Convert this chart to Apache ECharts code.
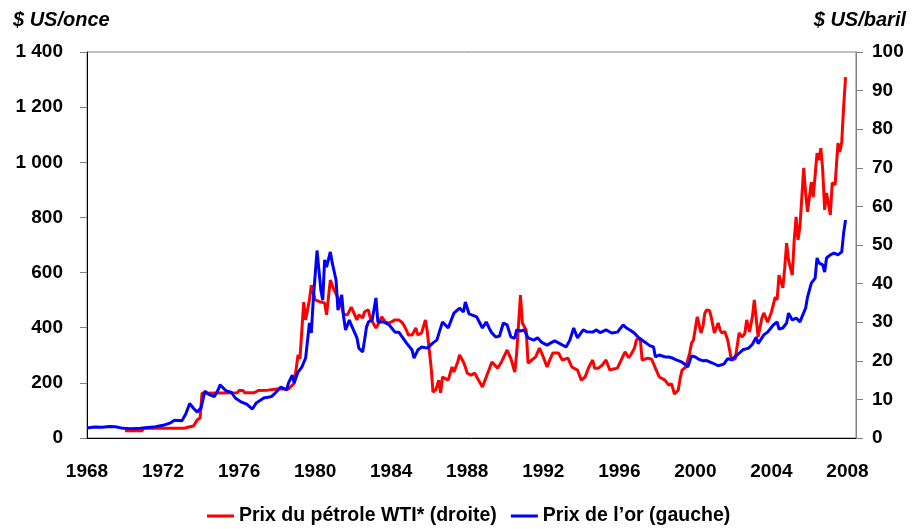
<!DOCTYPE html>
<html>
<head>
<meta charset="utf-8">
<script src="https://cdn.jsdelivr.net/npm/echarts@6/dist/echarts.min.js"></script>
<style>
  html, body { margin: 0; padding: 0; background: #fff; }
  #chart { width: 917px; height: 529px; }
</style>
</head>
<body>
<div id="chart"></div>
<script>
// dates en années décimales
var goldYears = [1968.0, 1968.4, 1968.8, 1969.2, 1969.5, 1969.9, 1970.3, 1970.8, 1971.2, 1971.6,
    1972.0, 1972.4, 1972.6, 1973.0, 1973.2, 1973.4, 1973.6, 1973.8, 1974.0, 1974.2,
    1974.4, 1974.7, 1974.9, 1975.0, 1975.3, 1975.6, 1975.8, 1976.1, 1976.4, 1976.7,
    1976.9, 1977.3, 1977.7, 1977.9, 1978.2, 1978.5, 1978.6, 1978.8, 1978.9, 1979.1,
    1979.3, 1979.5, 1979.7, 1979.8, 1979.9, 1980.1, 1980.3, 1980.4, 1980.5, 1980.6,
    1980.8, 1980.9, 1981.1, 1981.2, 1981.4, 1981.5, 1981.6, 1981.8, 1981.9, 1982.2,
    1982.3, 1982.5, 1982.6, 1982.7, 1982.8, 1983.0, 1983.2, 1983.3, 1983.6, 1983.9,
    1984.2, 1984.4, 1984.8, 1985.1, 1985.2, 1985.4, 1985.6, 1985.9, 1986.2, 1986.4,
    1986.7, 1987.0, 1987.1, 1987.3, 1987.6, 1987.8, 1987.9, 1988.1, 1988.3, 1988.5,
    1988.8, 1989.0, 1989.2, 1989.3, 1989.5, 1989.7, 1989.9, 1990.1, 1990.3, 1990.5,
    1990.6, 1990.8, 1991.0, 1991.2, 1991.3, 1991.5, 1991.7, 1991.9, 1992.0, 1992.2,
    1992.4, 1992.6, 1992.8, 1993.2, 1993.4, 1993.6, 1993.8, 1994.1, 1994.3, 1994.6,
    1994.8, 1995.0, 1995.3, 1995.6, 1995.9, 1996.2, 1996.4, 1996.6, 1996.8, 1997.0,
    1997.3, 1997.6, 1997.8, 1997.9, 1998.1, 1998.4, 1998.6, 1998.8, 1999.0, 1999.3,
    1999.5, 1999.6, 1999.8, 2000.0, 2000.2, 2000.4, 2000.6, 2000.9, 2001.2, 2001.3,
    2001.5, 2001.7, 2001.9, 2002.0, 2002.2, 2002.5, 2002.6, 2002.8, 2003.0, 2003.2,
    2003.3, 2003.5, 2003.6, 2003.8, 2004.1, 2004.2, 2004.3, 2004.4, 2004.6, 2004.8,
    2004.9, 2005.1, 2005.3, 2005.5, 2005.6, 2005.8, 2005.9, 2006.1, 2006.3, 2006.4,
    2006.5, 2006.6, 2006.7, 2006.8, 2006.9, 2007.1, 2007.3, 2007.5, 2007.6, 2007.7,
    2007.8, 2007.9];
var goldPrices = [36, 40, 39, 42, 41, 35, 34, 35, 38, 41,
    46, 55, 64, 63, 88, 125, 108, 94, 110, 170,
    158, 150, 175, 193, 172, 165, 145, 131, 123, 105,
    127, 145, 150, 163, 185, 174, 200, 228, 200, 239,
    257, 290, 417, 381, 500, 680, 537, 500, 646, 620,
    675, 635, 573, 464, 519, 439, 392, 428, 410, 363,
    326, 312, 355, 402, 421, 428, 508, 421, 421, 410,
    384, 384, 345, 319, 290, 319, 330, 326, 345, 355,
    421, 399, 403, 453, 471, 457, 493, 450, 445, 439,
    399, 421, 392, 381, 366, 370, 417, 410, 366, 362,
    392, 388, 392, 363, 368, 355, 364, 348, 350, 337,
    345, 352, 345, 330, 355, 399, 363, 392, 385, 384,
    392, 382, 392, 381, 384, 410, 398, 390, 380, 365,
    350, 335, 330, 294, 301, 294, 294, 290, 283, 275,
    265, 257, 298, 294, 285, 280, 281, 272, 262, 257,
    268, 288, 284, 290, 301, 320, 318, 326, 340, 366,
    342, 363, 374, 384, 410, 403, 421, 395, 399, 417,
    453, 428, 435, 421, 438, 471, 511, 562, 580, 653,
    635, 640, 628, 602, 653, 664, 671, 664, 657, 675,
    744, 791];

var oilYears = [1970.0, 1970.9, 1971.0, 1973.1, 1973.3, 1973.6, 1973.8, 1973.95, 1974.05, 1975.9,
    1976.0, 1976.2, 1976.3, 1976.8, 1977.0, 1977.5, 1978.0, 1978.6, 1978.9, 1979.1,
    1979.2, 1979.4, 1979.5, 1979.7, 1979.8, 1980.0, 1980.3, 1980.5, 1980.6, 1980.8,
    1981.0, 1981.2, 1981.4, 1981.5, 1981.7, 1981.9, 1982.0, 1982.2, 1982.3, 1982.5,
    1982.6, 1982.8, 1982.9, 1983.2, 1983.3, 1983.5, 1983.7, 1983.9, 1984.2, 1984.4,
    1984.6, 1984.8, 1984.9, 1985.1, 1985.3, 1985.4, 1985.6, 1985.8, 1985.9, 1986.1,
    1986.2, 1986.35, 1986.5, 1986.6, 1986.7, 1987.0, 1987.2, 1987.3, 1987.5, 1987.6,
    1987.8, 1987.9, 1988.0, 1988.2, 1988.4, 1988.5, 1988.8, 1989.1, 1989.3, 1989.4,
    1989.6, 1989.8, 1989.9, 1990.1, 1990.3, 1990.5, 1990.6, 1990.8, 1990.9, 1991.1,
    1991.2, 1991.4, 1991.6, 1991.8, 1992.0, 1992.2, 1992.3, 1992.5, 1992.8, 1993.0,
    1993.3, 1993.5, 1993.8, 1994.0, 1994.2, 1994.4, 1994.6, 1994.7, 1994.9, 1995.1,
    1995.3, 1995.5, 1995.7, 1995.9, 1996.0, 1996.3, 1996.5, 1996.6, 1996.8, 1996.9,
    1997.1, 1997.2, 1997.5, 1997.7, 1997.9, 1998.1, 1998.4, 1998.6, 1998.75, 1998.9,
    1999.1, 1999.2, 1999.3, 1999.5, 1999.7, 1999.8, 1999.9, 2000.1, 2000.3, 2000.4,
    2000.5, 2000.6, 2000.75, 2000.85, 2001.0, 2001.2, 2001.3, 2001.4, 2001.55, 2001.7,
    2001.8, 2001.9, 2002.1, 2002.3, 2002.45, 2002.6, 2002.7, 2002.85, 2003.0, 2003.1,
    2003.3, 2003.5, 2003.6, 2003.8, 2004.0, 2004.2, 2004.3, 2004.4, 2004.6, 2004.7,
    2004.8, 2004.9, 2005.1, 2005.2, 2005.3, 2005.4, 2005.5, 2005.7, 2005.8, 2005.9,
    2006.1, 2006.2, 2006.4, 2006.5, 2006.6, 2006.7, 2006.8, 2006.9, 2007.1, 2007.2,
    2007.35, 2007.5, 2007.6, 2007.7, 2007.8, 2007.9];
var oilPrices = [1.9, 1.9, 2.5, 2.5, 2.8, 3.1, 4.7, 5.2, 11.6, 11.7,
    12.3, 12.3, 11.7, 11.7, 12.3, 12.4, 12.7, 12.7, 14.2, 21.5,
    20.5, 35.2, 30.6, 35.8, 39.6, 35.8, 35.2, 35.0, 31.9, 40.9,
    38.3, 36.3, 33.9, 31.9, 31.9, 33.9, 33.5, 30.6, 31.9, 31.1,
    32.7, 33.2, 31.1, 28.5, 29.3, 31.4, 30.0, 29.8, 30.6, 30.6,
    29.8, 28.0, 26.7, 26.7, 28.5, 26.7, 27.2, 30.6, 27.5, 18.4,
    11.9, 12.5, 15.0, 11.7, 15.8, 15.0, 18.4, 17.1, 19.7, 21.5,
    19.7, 18.4, 16.8, 16.3, 16.8, 15.8, 13.2, 17.1, 19.7, 20.0,
    18.1, 19.7, 20.2, 22.8, 20.5, 17.1, 22.0, 37.0, 29.8, 28.0,
    19.4, 20.2, 21.0, 23.3, 21.0, 18.4, 19.7, 22.0, 22.0, 20.2,
    20.7, 18.4, 17.6, 15.0, 15.8, 18.4, 20.2, 18.1, 18.1, 18.9,
    20.2, 17.6, 17.9, 18.1, 18.4, 22.3, 20.8, 21.5, 23.3, 25.4,
    25.9, 20.2, 20.7, 20.4, 18.1, 15.8, 15.0, 13.7, 14.0, 11.4,
    12.4, 15.5, 17.6, 18.4, 22.0, 24.6, 25.4, 31.4, 27.2, 29.0,
    32.4, 33.2, 33.0, 31.0, 27.2, 29.8, 28.0, 27.2, 27.6, 25.4,
    25.0, 20.2, 20.5, 27.2, 26.2, 27.0, 30.6, 27.5, 31.4, 35.8,
    26.2, 31.1, 32.4, 30.0, 32.6, 36.5, 35.8, 42.2, 38.9, 44.0,
    50.5, 46.1, 42.2, 51.3, 57.3, 51.3, 54.7, 70.0, 63.5, 58.6,
    66.3, 62.4, 73.8, 72.0, 75.1, 69.4, 59.1, 63.5, 57.8, 66.1,
    65.6, 76.4, 74.1, 76.7, 85.8, 93.5];

var yearTicks = [1968, 1972, 1976, 1980, 1984, 1988, 1992, 1996, 2000, 2004, 2008];

var zip = function (xs, ys) {
    return xs.map(function (x, i) { return [x, ys[i]]; });
};

var fontFamily = '"Liberation Sans", Arial, sans-serif';
var labelStyle = { color: '#000', fontSize: 19, fontWeight: 'bold', fontFamily: fontFamily };
var unitStyle = { color: '#000', fontSize: 20, fontWeight: 'bold', fontStyle: 'italic', fontFamily: fontFamily };

var myChart = echarts.init(document.getElementById('chart'));
myChart.setOption({
    animation: false,
    title: [
        { text: '$ US/once', left: 8, top: 5, textStyle: unitStyle },
        { text: '$ US/baril', right: 6, top: 5, textStyle: unitStyle }
    ],
    grid: {
        left: 87, right: 61, top: 52, bottom: 91,
        show: true, borderColor: '#808080', borderWidth: 1
    },
    legend: {
        left: 202, top: 501,
        icon: 'rect', itemWidth: 27, itemHeight: 3, itemGap: 14,
        textStyle: Object.assign({}, labelStyle, { fontSize: 19.5 }),
        data: ['Prix du pétrole WTI* (droite)', 'Prix de l’or (gauche)']
    },
    xAxis: {
        type: 'value', min: 1968, max: 2008.45, interval: 4,
        axisLine: { lineStyle: { color: '#000', width: 1 } },
        axisTick: { show: false },
        splitLine: { show: false },
        axisLabel: Object.assign({
            margin: 24,
            showMaxLabel: false,
            formatter: function (v) { return yearTicks.indexOf(v) >= 0 ? String(v) : ''; }
        }, labelStyle)
    },
    yAxis: [{
        type: 'value', min: 0, max: 1400, interval: 200, position: 'left',
        axisLine: { show: true, lineStyle: { color: '#000', width: 1 } },
        axisTick: { show: true, inside: false, length: 7, lineStyle: { color: '#808080' } },
        splitLine: { show: false },
        axisLabel: Object.assign({
            margin: 24,
            formatter: function (v) { return String(v).replace(/\B(?=(\d{3})+(?!\d))/g, ' '); }
        }, labelStyle)
    }, {
        type: 'value', min: 0, max: 100, interval: 10, position: 'right',
        axisLine: { show: true, lineStyle: { color: '#808080', width: 1 } },
        axisTick: { show: true, inside: false, length: 7, lineStyle: { color: '#808080' } },
        splitLine: { show: false },
        axisLabel: Object.assign({ margin: 16 }, labelStyle)
    }],
    series: [{
        name: 'Prix du pétrole WTI* (droite)',
        type: 'line', yAxisIndex: 1,
        showSymbol: false, symbol: 'none',
        color: '#ff0000',
        lineStyle: { width: 3, color: '#ff0000' },
        data: zip(oilYears, oilPrices)
    }, {
        name: 'Prix de l’or (gauche)',
        type: 'line', yAxisIndex: 0,
        showSymbol: false, symbol: 'none',
        color: '#0000ff',
        lineStyle: { width: 3, color: '#0000ff' },
        data: zip(goldYears, goldPrices)
    }]
});
</script>
</body>
</html>
